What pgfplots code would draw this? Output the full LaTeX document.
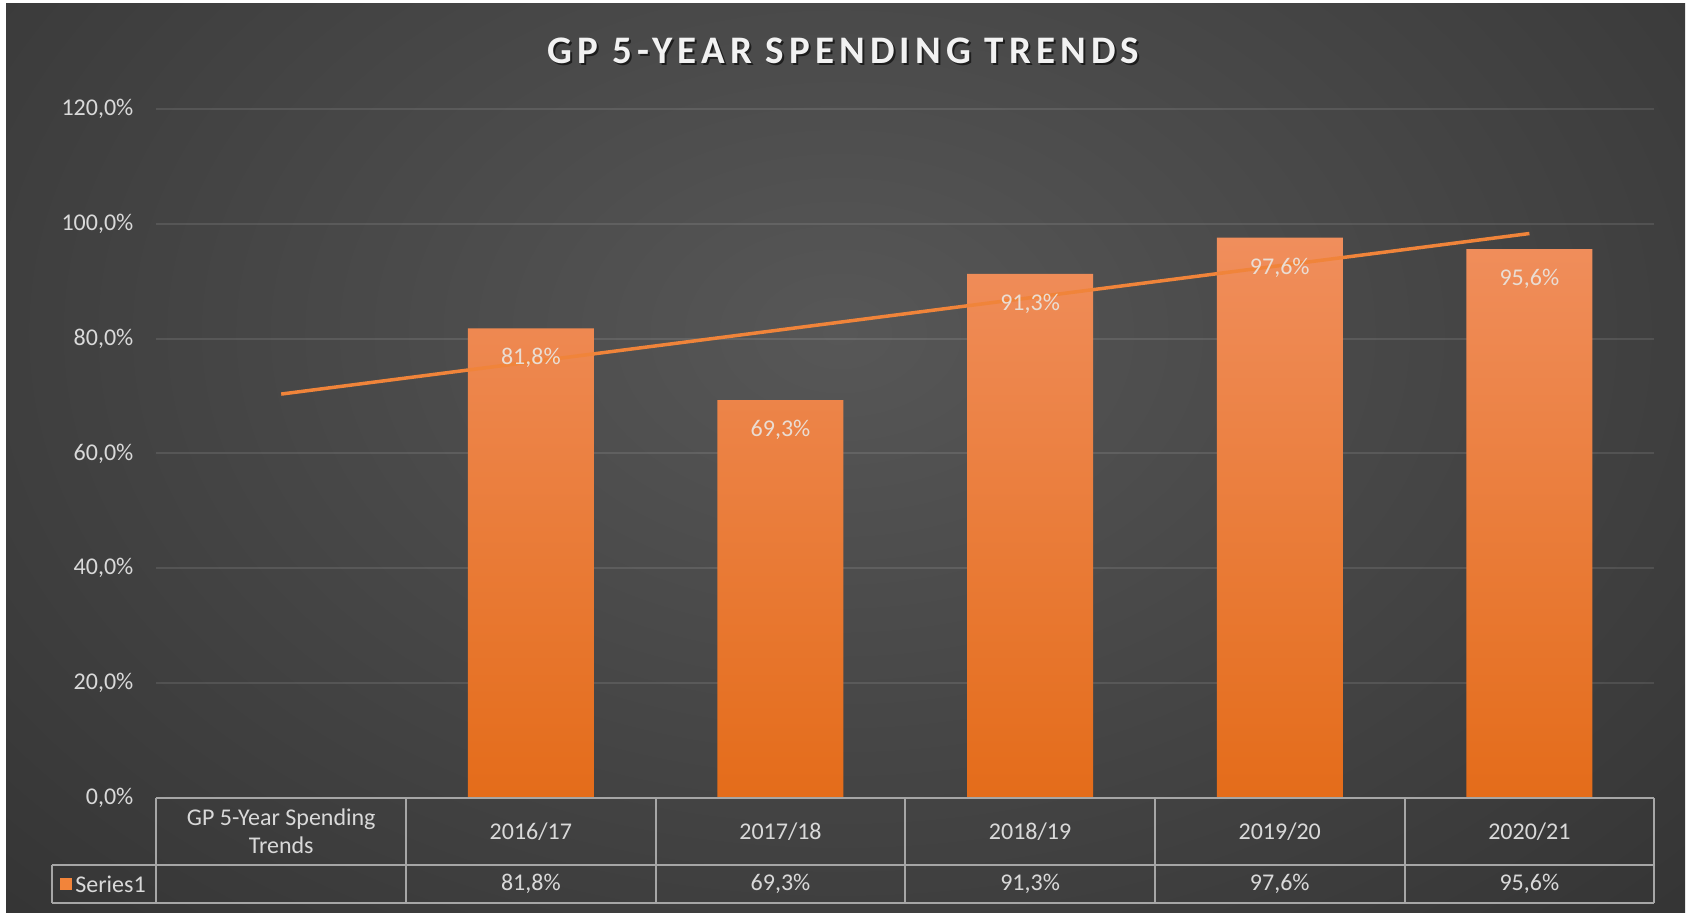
\documentclass[border=0pt]{standalone}
\usepackage{fontspec}
\setmainfont{Carlito}
\newfontfamily\titlefont[LetterSpace=13]{Carlito}
\usepackage{pgfplots}
\pgfplotsset{compat=1.18}
\usepackage{pgfplotstable}
\definecolor{bgIn}{HTML}{575757}
\definecolor{bgOut}{HTML}{242424}
\definecolor{txt}{HTML}{D9D9D9}
\definecolor{lbl}{HTML}{EADDD3}
\definecolor{tbl}{HTML}{A6A6A6}
\definecolor{barTop}{HTML}{F08E5C}
\definecolor{barMid}{HTML}{F2843A}
\definecolor{barBot}{HTML}{E46C1A}
\definecolor{trend}{HTML}{F0843A}
\pgfdeclareradialshading{bgshade}{\pgfpoint{0bp}{0bp}}{color(0bp)=(bgIn); color(50bp)=(bgOut)}

\pgfplotstableread{
x y base lab
1 81.8 0 {81,8\%}
2 69.3 0 {69,3\%}
3 91.3 0 {91,3\%}
4 97.6 0 {97,6\%}
5 95.6 0 {95,6\%}
}\spend

\begin{document}
\begin{tikzpicture}
\fill[white] (0,0) rectangle (845.5pt,456.5pt);
\begin{scope}
\clip (3pt,0) rectangle (842.5pt,454.5pt);
\fill[bgOut] (3pt,0) rectangle (842.5pt,454.5pt);
\shade[shading=bgshade] (-20pt,-15pt) rectangle (860pt,595pt);
\end{scope}
\node[text=black, opacity=0.6] at (422.7pt,430pt) {\titlefont\fontsize{19.5}{22}\selectfont\bfseries GP 5-YEAR SPENDING TRENDS};
\node[text=white!95!black] at (421.7pt,431pt) {\titlefont\fontsize{19.5}{22}\selectfont\bfseries GP 5-YEAR SPENDING TRENDS};
\begin{axis}[
  at={(78.2pt,57.5pt)}, anchor=south west,
  scale only axis, width=748.9pt, height=344.5pt,
  xmin=-0.5, xmax=5.5, ymin=0, ymax=120,
  clip=false,
  axis line style={draw=none},
  major tick length=0pt,
  ytick={0,20,40,60,80,100,120},
  yticklabels={{0,0\%},{20,0\%},{40,0\%},{60,0\%},{80,0\%},{100,0\%},{120,0\%}},
  yticklabel style={anchor=east, xshift=-8pt, text=txt, font=\fontsize{12}{14}\selectfont},
  ymajorgrids,
  grid style={white, opacity=0.1, line width=1pt},
  xtick={0,1,2,3,4,5},
  xticklabels={{GP 5-Year Spending\\Trends},{2016/17},{2017/18},{2018/19},{2019/20},{2020/21}},
  xticklabel style={anchor=center, yshift=-16.75pt, align=center, text=txt, font=\fontsize{12}{14}\selectfont},
]
\addplot[ybar, bar width=63pt, draw=none, top color=barTop, middle color=barMid, bottom color=barBot,
  nodes near coords, point meta=explicit symbolic,
  every node near coord/.append style={anchor=north, yshift=-6.5pt, text=lbl, font=\fontsize{12}{14}\selectfont}]
  table[x=x, y=y, meta=lab] {\spend};
\addplot[trend, line width=1.75pt, mark=none] coordinates {(0,70.35) (5,98.31)};
\addplot[draw=none, mark=none, nodes near coords, point meta=explicit symbolic,
  every node near coord/.append style={anchor=center, yshift=-43pt, text=txt, font=\fontsize{12}{14}\selectfont}]
  table[x=x, y=base, meta=lab] {\spend};
\end{axis}
% data table grid
\begin{scope}[draw=tbl, line width=1pt]
\draw (78.2pt,57.5pt) -- (827.1pt,57.5pt);
\draw (26pt,24pt) -- (827.1pt,24pt);
\draw (26pt,5pt) -- (827.1pt,5pt);
\draw (26pt,5pt) -- (26pt,24pt);
\foreach \k in {0,...,6} {
  \draw ({78.2pt+\k*124.82pt},57.5pt) -- ({78.2pt+\k*124.82pt},5pt);
}
\end{scope}
\fill[barMid] (30pt,11.5pt) rectangle (36pt,17.5pt);
\node[anchor=west, text=txt, inner sep=0pt, font=\fontsize{12}{14}\selectfont] at (37.5pt,14.5pt) {Series1};
\end{tikzpicture}
\end{document}
